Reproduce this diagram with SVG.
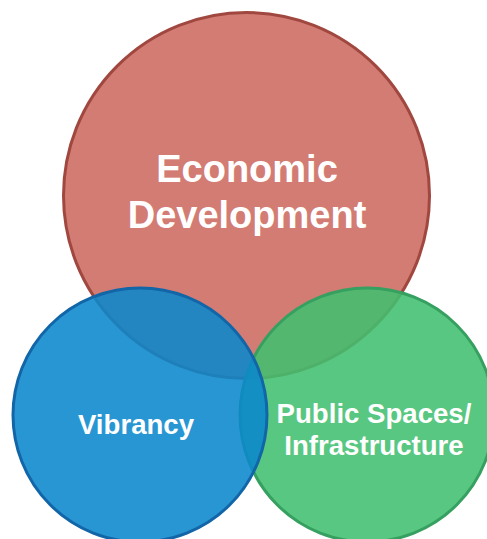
<svg xmlns="http://www.w3.org/2000/svg" width="487" height="539" viewBox="0 0 487 539">
  <style>
    .label { font-family: "Liberation Sans", Arial, sans-serif; font-weight: bold; fill: #ffffff; text-anchor: middle; }
    .big { font-size: 38px; }
    .small { font-size: 27.6px; }
    .ring { stroke-width: 3; }
  </style>
  <rect width="487" height="539" fill="#ffffff"/>

  <!-- Economic Development (back) -->
  <g id="economic-development">
    <circle class="ring" cx="246.5" cy="195.5" r="183" fill="#D37C74" stroke="#A0483F"/>
    <text class="label big" x="247" y="182">Economic</text>
    <text class="label big" x="247" y="228">Development</text>
  </g>

  <!-- Public Spaces / Infrastructure -->
  <g id="public-spaces">
    <circle class="ring" cx="367" cy="415" r="127" fill="#41BF6F" fill-opacity="0.88" stroke="#36A060"/>
    <text class="label small" x="374" y="423">Public Spaces/</text>
    <text class="label small" x="374" y="455">Infrastructure</text>
  </g>

  <!-- Vibrancy (front) -->
  <g id="vibrancy">
    <circle class="ring" cx="140" cy="415" r="127" fill="#0A88CC" fill-opacity="0.88" stroke="#1266A8"/>
    <text class="label small" x="136" y="434">Vibrancy</text>
  </g>

  <g id="connectors"/>
</svg>
